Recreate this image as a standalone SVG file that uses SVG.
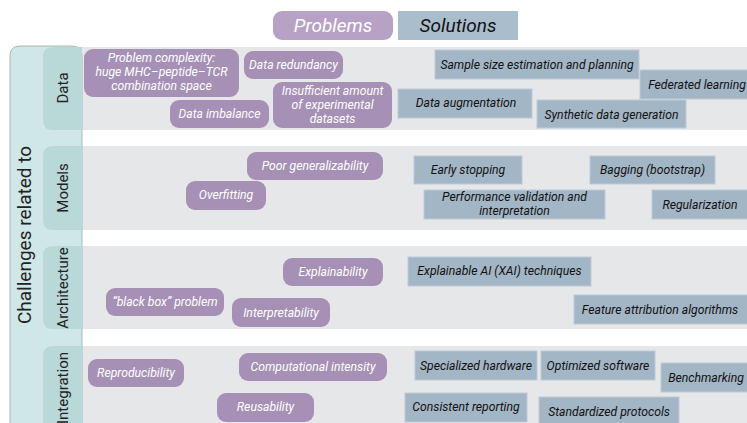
<svg xmlns="http://www.w3.org/2000/svg" width="747" height="423" viewBox="0 0 747 423">
<style>
.band{fill:#e6e7e8}
.tab{fill:#b9d8d8}
.p{fill:#a690b5}
.s{fill:#a3b6c6;stroke:#bccad6;stroke-width:1}
.pt{font-family:Roboto,"Liberation Sans",sans-serif;font-style:italic;font-size:12.2px;fill:#ffffff;text-anchor:middle}
.st{font-family:Roboto,"Liberation Sans",sans-serif;font-style:italic;font-size:12.2px;fill:#111111;text-anchor:middle}
.cat{font-family:Roboto,"Liberation Sans",sans-serif;font-size:15px;fill:#222;text-anchor:middle}
</style>
<rect width="747" height="423" fill="#ffffff"/>
<g id="legend">
<g id="problems-header"><rect x="273" y="11" width="120" height="29" rx="9" fill="#b7a2c6"/><text x="333" y="32" font-family="Roboto,'Liberation Sans',sans-serif" font-style="italic" font-size="19" fill="#fff" text-anchor="middle">Problems</text></g>
<g id="solutions-header"><rect x="398" y="11" width="120" height="29" fill="#a9bdcc"/><text x="458" y="32" font-family="Roboto,'Liberation Sans',sans-serif" font-style="italic" font-size="19" fill="#111" text-anchor="middle">Solutions</text></g>
</g>
<g id="bands">
<rect class="band" x="60" y="47" width="687" height="83"/>
<rect class="band" x="60" y="146" width="687" height="84"/>
<rect class="band" x="60" y="246" width="687" height="83"/>
<rect class="band" x="60" y="346" width="687" height="90"/>
</g>
<g id="challenges">
<path d="M10 440 V56 Q10 46 20 46 H72 Q82 46 82 56 V440 Z" fill="#cfe7e7" stroke="#aab8b8" stroke-width="1"/>
<text transform="translate(31 235) rotate(-90)" font-family="Roboto,'Liberation Sans',sans-serif" font-size="19" fill="#222" text-anchor="middle">Challenges related to</text>
</g>
<g id="cat-data"><path d="M82 47 H53 Q43 47 43 57 V120 Q43 130 53 130 H82 Z" class="tab"/><text class="cat" transform="translate(68 88) rotate(-90)">Data</text></g>
<g id="cat-models"><path d="M82 146 H53 Q43 146 43 156 V220 Q43 230 53 230 H82 Z" class="tab"/><text class="cat" transform="translate(68 188) rotate(-90)">Models</text></g>
<g id="cat-architecture"><path d="M82 246 H53 Q43 246 43 256 V319 Q43 329 53 329 H82 Z" class="tab"/><text class="cat" transform="translate(68 288) rotate(-90)">Architecture</text></g>
<g id="cat-integration"><path d="M82 346 H53 Q43 346 43 356 V440 H82 Z" class="tab"/><text class="cat" transform="translate(68 388) rotate(-90)">Integration</text></g>

<g id="p-complexity"><rect class="p" x="84" y="49" width="155" height="48" rx="9"/><text class="pt" x="161.5" y="62">Problem complexity:</text><text class="pt" x="161.5" y="76">huge MHC–peptide–TCR</text><text class="pt" x="161.5" y="90">combination space</text></g>
<g id="p-redundancy"><rect class="p" x="244" y="51" width="99" height="28" rx="9"/><text class="pt" x="293.5" y="69">Data redundancy</text></g>
<g id="p-insufficient"><rect class="p" x="273" y="82" width="119" height="46" rx="9"/><text class="pt" x="332.5" y="95">Insufficient amount</text><text class="pt" x="332.5" y="109">of experimental</text><text class="pt" x="332.5" y="123">datasets</text></g>
<g id="p-imbalance"><rect class="p" x="170" y="100" width="99" height="28" rx="9"/><text class="pt" x="219.5" y="118">Data imbalance</text></g>

<g id="s-sample"><rect class="s" x="435" y="50" width="204" height="29"/><text class="st" x="537" y="69">Sample size estimation and planning</text></g>
<g id="s-federated"><rect class="s" x="640" y="70" width="110" height="29"/><text class="st" x="697" y="89">Federated learning</text></g>
<g id="s-augmentation"><rect class="s" x="398" y="89" width="134" height="29"/><text class="st" x="466" y="107">Data augmentation</text></g>
<g id="s-synthetic"><rect class="s" x="537" y="100" width="149" height="28"/><text class="st" x="611.5" y="119">Synthetic data generation</text></g>

<g id="p-generalizability"><rect class="p" x="247" y="152" width="136" height="28" rx="9"/><text class="pt" x="315" y="170">Poor generalizability</text></g>
<g id="p-overfitting"><rect class="p" x="186" y="181" width="80" height="29" rx="9"/><text class="pt" x="226" y="199">Overfitting</text></g>
<g id="s-early"><rect class="s" x="414" y="156" width="108" height="28"/><text class="st" x="468" y="174">Early stopping</text></g>
<g id="s-bagging"><rect class="s" x="590" y="156" width="125" height="28"/><text class="st" x="652.5" y="174">Bagging (bootstrap)</text></g>
<g id="s-performance"><rect class="s" x="424" y="190" width="181" height="29"/><text class="st" x="514.5" y="201">Performance validation and</text><text class="st" x="514.5" y="215">interpretation</text></g>
<g id="s-regularization"><rect class="s" x="652" y="190" width="100" height="29"/><text class="st" x="700" y="209">Regularization</text></g>

<g id="p-explainability"><rect class="p" x="283" y="258" width="100" height="28" rx="9"/><text class="pt" x="333" y="276">Explainability</text></g>
<g id="p-blackbox"><rect class="p" x="106" y="288" width="118" height="28" rx="9"/><text class="pt" x="165" y="306">“black box” problem</text></g>
<g id="p-interpretability"><rect class="p" x="232" y="298" width="98" height="29" rx="9"/><text class="pt" x="281" y="317">Interpretability</text></g>
<g id="s-xai"><rect class="s" x="408" y="257" width="183" height="29"/><text class="st" x="499.5" y="275">Explainable AI (XAI) techniques</text></g>
<g id="s-feature"><rect class="s" x="574" y="295" width="180" height="29"/><text class="st" x="660" y="314">Feature attribution algorithms</text></g>

<g id="p-reproducibility"><rect class="p" x="88" y="359" width="96" height="28" rx="9"/><text class="pt" x="136" y="377">Reproducibility</text></g>
<g id="p-computational"><rect class="p" x="239" y="353" width="148" height="28" rx="9"/><text class="pt" x="313" y="371">Computational intensity</text></g>
<g id="p-reusability"><rect class="p" x="217" y="393" width="97" height="29" rx="9"/><text class="pt" x="265.5" y="411">Reusability</text></g>
<g id="s-hardware"><rect class="s" x="415" y="351" width="122" height="29"/><text class="st" x="476" y="370">Specialized hardware</text></g>
<g id="s-software"><rect class="s" x="541" y="351" width="114" height="29"/><text class="st" x="598" y="370">Optimized software</text></g>
<g id="s-benchmarking"><rect class="s" x="661" y="363" width="90" height="29"/><text class="st" x="706" y="382">Benchmarking</text></g>
<g id="s-reporting"><rect class="s" x="405" y="393" width="122" height="29"/><text class="st" x="466" y="411">Consistent reporting</text></g>
<g id="s-protocols"><rect class="s" x="539" y="397" width="140" height="30"/><text class="st" x="609" y="416">Standardized protocols</text></g>
<g id="connectors"/>
</svg>
